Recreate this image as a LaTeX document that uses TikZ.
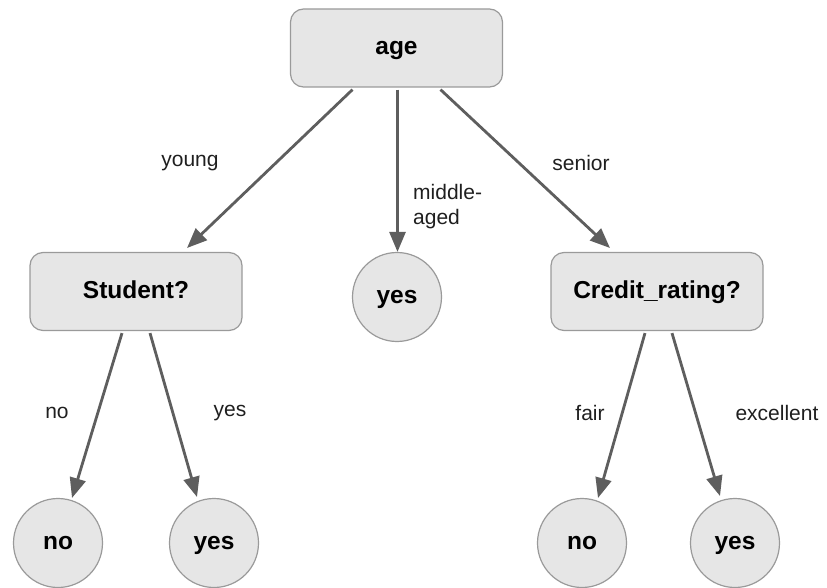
\documentclass[tikz,border=0pt]{standalone}
\usepackage{fontspec}
\setmainfont{Liberation Sans}
\usetikzlibrary{arrows.meta,calc}
\definecolor{nodefill}{HTML}{E6E6E6}
\definecolor{nodeline}{HTML}{9A9A9A}
\definecolor{arrowcol}{HTML}{5E5E5E}
\tikzset{
  boxnode/.style={draw=nodeline, line width=1.2pt, fill=nodefill, rounded corners=13pt,
    minimum width=212pt, minimum height=78pt, inner sep=0pt,
    text height=18pt, text depth=5pt,
    font=\fontsize{24.5}{28}\selectfont\bfseries},
  leafnode/.style={draw=nodeline, line width=1.2pt, fill=nodefill, circle,
    minimum size=89pt, inner sep=0pt, text height=18pt, text depth=5pt,
    font=\fontsize{24.5}{28}\selectfont\bfseries},
  edgelabel/.style={font=\fontsize{21}{25}\selectfont, inner sep=0pt, text=black!88},
  conn/.style={draw=arrowcol, line width=2.8pt,
    -{Triangle[length=20pt,width=16pt]}}
}
\begin{document}
\begin{tikzpicture}[x=1pt,y=-1pt]
\useasboundingbox (0,0) rectangle (827,588);
\node[boxnode] (age) at (396.5,48) {age};
\node[boxnode] (stu) at (136,291.5) {Student?};
\node[boxnode] (cred) at (657,291.5) {Credit\_rating?};
\node[leafnode] (myes) at (397,297) {yes};
\node[leafnode] (sno) at (58,543) {no};
\node[leafnode] (syes) at (214,543) {yes};
\node[leafnode] (cno) at (582,543) {no};
\node[leafnode] (cyes) at (735,543) {yes};

\coordinate (a1) at ($(age.south)+(-44,2)$);
\coordinate (a2) at ($(age.south)+(1,2)$);
\coordinate (a3) at ($(age.south)+(44,2)$);
\coordinate (t1) at (187,248);
\coordinate (t3) at (610,248);
\draw[conn] (a1) -- (t1);
\draw[conn] (a2) -- (a2 |- myes.north);
\draw[conn] (a3) -- (t3);

\coordinate (s1) at ($(stu.south)+(-14,2)$);
\coordinate (s2) at ($(stu.south)+(14,2)$);
\draw[conn] (s1) -- (72,498);
\draw[conn] (s2) -- (197,497);
\coordinate (c1) at ($(cred.south)+(-12,2)$);
\coordinate (c2) at ($(cred.south)+(15,2)$);
\draw[conn] (c1) -- (598,498);
\draw[conn] (c2) -- (720,496);

\node[edgelabel] (lyoung) at (190,163) {young};
\node[edgelabel, align=left, anchor=west] (lmid) at (413,207) {middle-\\aged};
\node[edgelabel] (lsenior) at (581,163) {senior};
\node[edgelabel] (lno) at (57,413) {no};
\node[edgelabel] (lyes) at (230,413) {yes};
\node[edgelabel] (lfair) at (590,413) {fair};
\node[edgelabel] (lexc) at (777,413) {excellent};
\end{tikzpicture}
\end{document}
